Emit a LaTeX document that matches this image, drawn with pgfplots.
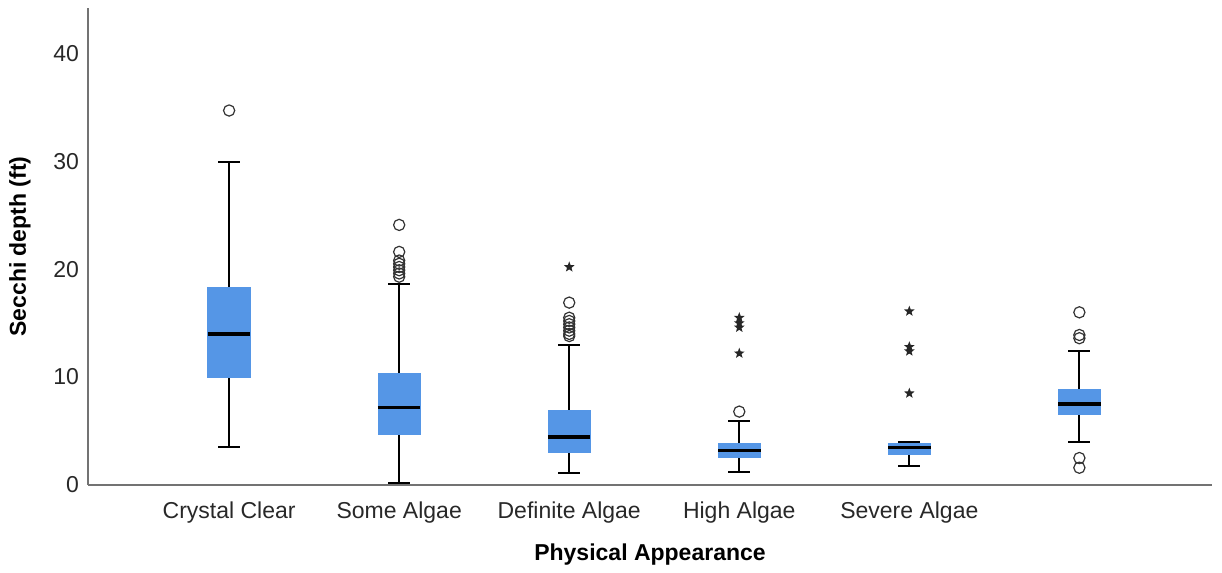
\documentclass[border=0pt]{standalone}
\usepackage{pgfplots}
\pgfplotsset{compat=1.18}
\usepgfplotslibrary{statistics}
\usetikzlibrary{plotmarks}
\usepackage{fontspec}
\setmainfont{Liberation Sans}
\definecolor{boxblue}{RGB}{85,150,230}
\definecolor{txt}{RGB}{40,40,40}
\pgfdeclareplotmark{fstar}{%
  \pgfpathmoveto{\pgfpointpolar{90}{\pgfplotmarksize}}%
  \pgfpathlineto{\pgfpointpolar{126}{0.42\pgfplotmarksize}}%
  \pgfpathlineto{\pgfpointpolar{162}{\pgfplotmarksize}}%
  \pgfpathlineto{\pgfpointpolar{198}{0.42\pgfplotmarksize}}%
  \pgfpathlineto{\pgfpointpolar{234}{\pgfplotmarksize}}%
  \pgfpathlineto{\pgfpointpolar{270}{0.42\pgfplotmarksize}}%
  \pgfpathlineto{\pgfpointpolar{306}{\pgfplotmarksize}}%
  \pgfpathlineto{\pgfpointpolar{342}{0.42\pgfplotmarksize}}%
  \pgfpathlineto{\pgfpointpolar{18}{\pgfplotmarksize}}%
  \pgfpathlineto{\pgfpointpolar{54}{0.42\pgfplotmarksize}}%
  \pgfpathclose
  \pgfusepathqfill}
\begin{document}
\begin{tikzpicture}
\begin{axis}[
  name=ax,
  scale only axis,
  width=562pt, height=238.5pt,
  xmin=0.17, xmax=6.78,
  ymin=0, ymax=44.2,
  axis x line*=bottom, axis y line*=left,
  axis line style={draw=black!55, line width=0.6pt},
  xtick={1,2,3,4,5,6},
  xticklabels={Crystal Clear,Some Algae,Definite Algae,High Algae,Severe Algae,{}},
  ytick={0,10,20,30,40},
  major tick length=0pt,
  tick label style={font=\fontsize{11.5}{13}\selectfont, text=txt},
  /pgf/number format/assume math mode=true,
  xticklabel style={yshift=-5pt},
  yticklabel style={xshift=-1pt},
  xlabel={Physical Appearance},
  ylabel={Secchi depth (ft)},
  every axis x label/.style={at={(rel axis cs:0.5,0)}, anchor=center, yshift=-35pt, font=\fontsize{11.5}{13}\selectfont\bfseries},
  every axis y label/.style={at={(rel axis cs:0,0.5)}, anchor=center, rotate=90, yshift=34pt, font=\fontsize{11.5}{13}\selectfont\bfseries},
  boxplot/draw direction=y,
  boxplot/box extend=0.25,
  boxplot/whisker extend=0.13,
  boxplot/every box/.style={draw=boxblue, fill=boxblue, line width=0.4pt},
  boxplot/every median/.style={draw=black, line width=1.6pt},
  boxplot/every whisker/.style={draw=black, line width=1pt},
  clip=false,
]
% Crystal Clear
\addplot[boxplot prepared={draw position=1, lower whisker=3.5, lower quartile=10.0, median=14.0, upper quartile=18.3, upper whisker=29.9}] coordinates {};
% Some Algae
\addplot[boxplot prepared={draw position=2, lower whisker=0.2, lower quartile=4.7, median=7.2, upper quartile=10.3, upper whisker=18.6}] coordinates {};
% Definite Algae
\addplot[boxplot prepared={draw position=3, lower whisker=1.1, lower quartile=3.06, median=4.45, upper quartile=6.9, upper whisker=13.0}] coordinates {};
% High Algae
\addplot[boxplot prepared={draw position=4, lower whisker=1.2, lower quartile=2.6, median=3.2, upper quartile=3.9, upper whisker=5.9}] coordinates {};
% Severe Algae
\addplot[boxplot prepared={draw position=5, lower whisker=1.8, lower quartile=2.85, median=3.45, upper quartile=3.9, upper whisker=4.0}] coordinates {};
% unlabelled
\addplot[boxplot prepared={draw position=6, lower whisker=4.0, lower quartile=6.5, median=7.5, upper quartile=8.9, upper whisker=12.4}] coordinates {};
% outliers (circles)
\addplot[only marks, mark=o, mark size=2.8pt, mark options={draw=black!80, line width=0.6pt}] coordinates {
 (1,34.7)
 (2,24.1) (2,21.6) (2,20.8) (2,20.5) (2,20.2) (2,19.9) (2,19.6) (2,19.3)
 (3,16.9) (3,15.5) (3,15.2) (3,14.9) (3,14.6) (3,14.3) (3,14.0) (3,13.8)
 (4,6.8)
 (6,16.0) (6,13.9) (6,13.6) (6,2.5) (6,1.6)
};
% extremes (stars)
\addplot[only marks, mark=fstar, mark size=2.8pt, mark options={fill=black!85, draw=none}] coordinates {
 (3,20.2)
 (4,15.5) (4,15.0) (4,14.6) (4,12.2)
 (5,16.1) (5,12.8) (5,12.4) (5,8.5)
};
\end{axis}
\path ([xshift=-44pt,yshift=-44pt]ax.south west) rectangle ([xshift=5pt,yshift=4pt]ax.north east);
\end{tikzpicture}
\end{document}
